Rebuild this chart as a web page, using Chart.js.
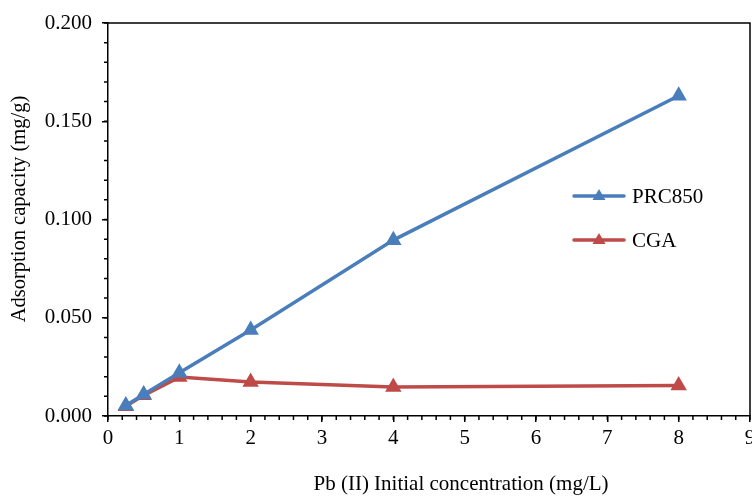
<!DOCTYPE html>
<html lang="en">
<head>
    <meta charset="UTF-8">
    <title>Pb (II) adsorption capacity</title>
    <script src="https://cdn.jsdelivr.net/npm/chart.js"></script>
    <style>
        html, body { margin: 0; padding: 0; background: #fff; overflow: hidden; }
        #wrap { width: 752px; height: 499px; }
    </style>
</head>
<body>
    <div id="wrap"><canvas id="chart" width="752" height="499"></canvas></div>
    <script>
        const concentrations = [0.25, 0.5, 1, 2, 4, 8];
        const prc850 = [0.0053, 0.0110, 0.0220, 0.0438, 0.0895, 0.1630];
        const cga = [0.0050, 0.0105, 0.0198, 0.0173, 0.0147, 0.0155];
        const seriesNames = ['PRC850', 'CGA'];
        const seriesColors = ['#4a7ebb', '#be4b48'];
        const xTitle = 'Pb (II) Initial concentration (mg/L)';
        const yTitle = 'Adsorption capacity (mg/g)';

        const FONT = '"Liberation Serif", "Times New Roman", serif';

        function toPoints(ys) {
            return concentrations.map((x, i) => ({ x: x, y: ys[i] }));
        }

        // minor ticks, frame, axis titles and legend
        const decorations = {
            id: 'decorations',
            afterDraw(chart) {
                const ctx = chart.ctx;
                const a = chart.chartArea;
                const xs = chart.scales.x, ys = chart.scales.y;
                ctx.save();
                ctx.strokeStyle = '#000';
                ctx.lineWidth = 1.5;
                ctx.beginPath();
                for (let v = 0; v <= 9.001; v += 0.2) {
                    const px = xs.getPixelForValue(v);
                    ctx.moveTo(px, a.bottom);
                    ctx.lineTo(px, a.bottom + 4);
                }
                for (let v = 0; v <= 0.2001; v += 0.01) {
                    const py = ys.getPixelForValue(v);
                    ctx.moveTo(a.left, py);
                    ctx.lineTo(a.left - 4, py);
                }
                ctx.stroke();
                // top and right frame
                ctx.beginPath();
                ctx.moveTo(a.left, a.top);
                ctx.lineTo(a.right, a.top);
                ctx.lineTo(a.right, a.bottom);
                ctx.stroke();

                ctx.fillStyle = '#000';
                ctx.font = '21px ' + FONT;
                ctx.textAlign = 'center';
                ctx.textBaseline = 'middle';
                ctx.fillText(xTitle, 461, 484);
                ctx.save();
                ctx.translate(20, 209);
                ctx.rotate(-Math.PI / 2);
                ctx.font = '20.5px ' + FONT;
                ctx.fillText(yTitle, 0, 0);
                ctx.restore();

                // legend
                const rows = [196, 240];
                ctx.textAlign = 'left';
                seriesNames.forEach((name, i) => {
                    const y = rows[i];
                    ctx.strokeStyle = seriesColors[i];
                    ctx.lineWidth = 3.5;
                    ctx.lineCap = 'round';
                    ctx.beginPath();
                    ctx.moveTo(574, y);
                    ctx.lineTo(624, y);
                    ctx.stroke();
                    ctx.fillStyle = seriesColors[i];
                    ctx.beginPath();
                    ctx.moveTo(599, y - 7);
                    ctx.lineTo(605.5, y + 4);
                    ctx.lineTo(592.5, y + 4);
                    ctx.closePath();
                    ctx.fill();
                    ctx.fillStyle = '#000';
                    ctx.fillText(name, 632, y + 1);
                });
                ctx.restore();
            }
        };

        const datasets = [prc850, cga].map((vals, i) => ({
            label: seriesNames[i],
            data: toPoints(vals),
            borderColor: seriesColors[i],
            backgroundColor: seriesColors[i],
            borderWidth: 3.5,
            showLine: true,
            pointStyle: 'triangle',
            pointRadius: 8,
            pointBorderWidth: 1.5,
            pointHoverRadius: 8,
            tension: 0
        }));

        new Chart(document.getElementById('chart'), {
            type: 'scatter',
            data: { datasets: datasets },
            options: {
                responsive: false,
                animation: false,
                layout: { autoPadding: false, padding: { top: 23, right: 2, left: 0, bottom: 0 } },
                plugins: { legend: { display: false }, tooltip: { enabled: false } },
                scales: {
                    x: {
                        type: 'linear',
                        min: 0, max: 9,
                        ticks: { stepSize: 1, color: '#000', font: { family: FONT, size: 21 }, padding: 4 },
                        grid: { drawOnChartArea: false, drawTicks: true, tickLength: 6, color: '#000', lineWidth: 1.5 },
                        border: { display: true, color: '#000', width: 1.5 },
                        afterFit(s) { s.height = 83; s.paddingLeft = 0; s.paddingRight = 0; }
                    },
                    y: {
                        min: 0, max: 0.2,
                        ticks: { stepSize: 0.05, color: '#000', font: { family: FONT, size: 21 }, padding: 10,
                                 callback: v => v.toFixed(3) },
                        grid: { drawOnChartArea: false, drawTicks: true, tickLength: 6, color: '#000', lineWidth: 1.5 },
                        border: { display: true, color: '#000', width: 1.5 },
                        afterFit(s) { s.width = 108; s.paddingTop = 0; s.paddingBottom = 0; }
                    }
                }
            },
            plugins: [decorations]
        });
    </script>
</body>
</html>
